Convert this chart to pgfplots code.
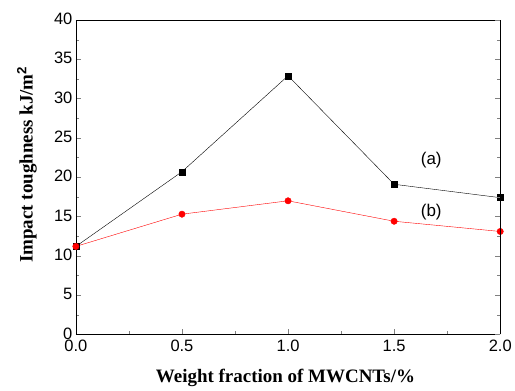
\documentclass[border=0pt]{standalone}
\usepackage{fontspec}
\setmainfont{Liberation Sans}
\newfontfamily\serifb{Liberation Serif}
\usepackage{pgfplots}
\pgfplotsset{compat=1.18}
\begin{document}
\begin{tikzpicture}
\begin{axis}[
  scale only axis, width=425pt, height=315pt,
  xmin=0, xmax=2, ymin=0, ymax=40,
  xtick={0,0.5,1,1.5,2}, ytick={0,5,...,40},
  minor x tick num=1, minor y tick num=1,
  xticklabel style={yshift=-2pt, /pgf/number format/fixed, /pgf/number format/fixed zerofill, /pgf/number format/precision=1},
  /pgf/number format/assume math mode=true,
  tick align=inside,
  axis x line*=bottom, axis y line*=left,
  ticklabel style={font=\fontsize{16.5}{18}\selectfont},
  yticklabel style={yshift=1pt},
  xlabel={\serifb\bfseries Weight fraction of MWCNTs/\%},
  ylabel={\serifb\bfseries Impact toughness kJ/m$^{\mathbf{2}}$},
  label style={font=\fontsize{19}{21}\selectfont},
  xlabel style={at={(rel axis cs:0.494,-0.137)}, anchor=center},
  ylabel style={at={(rel axis cs:-0.115,0.54)}, anchor=center},
  major tick length=5pt, minor tick length=3pt,
  clip=false,
]
\addplot[black, mark=square*, mark size=3pt] coordinates {
 (0,11.2) (0.5,20.7) (1.0,32.9) (1.5,19.1) (2.0,17.4)};
\addplot[red, mark=*, mark size=3.2pt] coordinates {
 (0,11.2) (0.5,15.3) (1.0,17.0) (1.5,14.4) (2.0,13.1)};
\node[font=\fontsize{17}{19}\selectfont] at (axis cs:1.675,22.2) {(a)};
\node[font=\fontsize{17}{19}\selectfont] at (axis cs:1.675,15.6) {(b)};
\draw[black] (rel axis cs:0,1) -- (rel axis cs:1,1);
\coordinate (bl) at (rel axis cs:-0.1788,-0.1778);
\coordinate (tr) at (rel axis cs:1.0329,1.0635);
\end{axis}
\begin{axis}[
  scale only axis, width=425pt, height=315pt,
  xmin=0, xmax=2, ymin=0, ymax=40,
  ytick={0,5,...,40}, minor y tick num=1,
  yticklabels={}, tick align=inside,
  axis y line*=right, axis x line=none,
  major tick length=5pt, minor tick length=3pt,
]
\end{axis}
\useasboundingbox (bl) rectangle (tr);
\end{tikzpicture}
\end{document}
